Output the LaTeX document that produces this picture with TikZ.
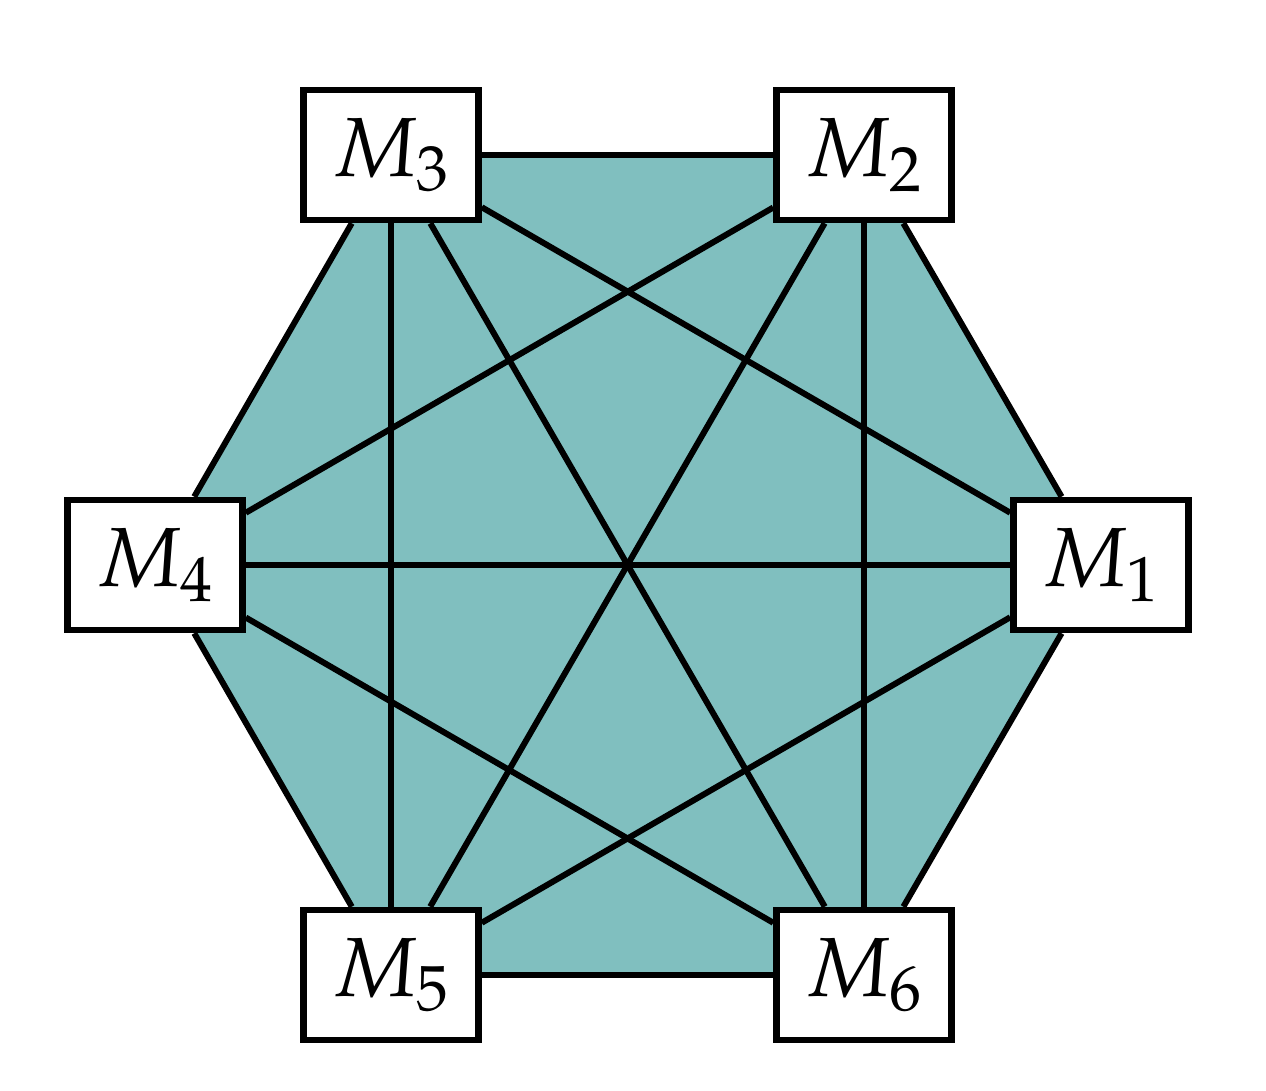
\documentclass[tikz,border=0pt]{standalone}
\usepackage{mathpazo}
\usepackage{tikz}
\usetikzlibrary{backgrounds}
\tikzset{
  mbox/.style={draw=black, fill=white, line width=3.3pt, minimum width=87.5pt, minimum height=65pt, inner sep=0pt, font=\fontsize{42}{50}\selectfont},
  edge/.style={line width=3pt, draw=black},
  hexfill/.style={fill=teal!50},
}
\begin{document}
\begin{tikzpicture}[x=0.5pt, y=-0.5pt]
\useasboundingbox (0,0) rectangle (1266,1091);
\node[mbox] (m1) at (1101,565) {$M_1$};
\node[mbox] (m2) at (864,155) {$M_2$};
\node[mbox] (m3) at (391,155) {$M_3$};
\node[mbox] (m4) at (155,565) {$M_4$};
\node[mbox] (m5) at (391,975) {$M_5$};
\node[mbox] (m6) at (864,975) {$M_6$};
\begin{scope}[on background layer]
\fill[hexfill] (m1.center) -- (m2.center) -- (m3.center) -- (m4.center) -- (m5.center) -- (m6.center) -- cycle;
\foreach \a/\b in {1/2,1/3,1/4,1/5,1/6,2/3,2/4,2/5,2/6,3/4,3/5,3/6,4/5,4/6,5/6}
  \draw[edge] (m\a) -- (m\b);
\end{scope}
\end{tikzpicture}
\end{document}
